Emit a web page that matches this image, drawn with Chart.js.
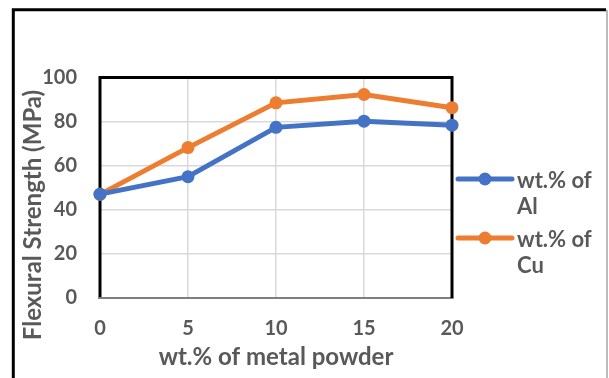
<!DOCTYPE html>
<html><head><meta charset="utf-8">
<style>html,body{margin:0;padding:0;background:#fff;overflow:hidden}#wrap{width:609px;height:378px;position:relative}</style>
<script src="https://cdn.jsdelivr.net/npm/chart.js@4.4.0/dist/chart.umd.min.js"></script>
</head><body><div id="wrap"><canvas id="c" width="609" height="378"></canvas></div>
<script>
const categories = ['0', '5', '10', '15', '20'];
const alValues = [47.1, 55.0, 77.4, 80.2, 78.4];
const cuValues = [47.0, 68.2, 88.5, 92.3, 86.3];
const seriesLabels = ['wt.% of Al', 'wt.% of Cu'];
const seriesColors = ['#4472C4', '#ED7D31'];
const yTicks = [0, 20, 40, 60, 80, 100];
const xTitle = 'wt.% of metal powder';
const yTitle = 'Flexural Strength (MPa)';

const FONT = 'Lato, "Open Sans", sans-serif';
const TEXT = '#595959';

const framePlugin = {
  id: 'frame',
  beforeDraw(chart) {
    const ctx = chart.ctx;
    ctx.save();
    ctx.fillStyle = '#fff';
    ctx.fillRect(0, 0, chart.width, chart.height);
    // outer frame
    ctx.strokeStyle = '#000';
    ctx.lineWidth = 3;
    ctx.beginPath();
    ctx.moveTo(13.3, chart.height + 2);
    ctx.lineTo(13.3, 9.7);
    ctx.lineTo(606, 9.7);
    ctx.stroke();
    ctx.strokeStyle = '#a6a6a6';
    ctx.lineWidth = 1.5;
    ctx.beginPath();
    ctx.moveTo(607, 9.7);
    ctx.lineTo(607, chart.height + 2);
    ctx.stroke();
    ctx.restore();
  },
  beforeDatasetsDraw(chart) {
    const {ctx, chartArea: a} = chart;
    ctx.save();
    ctx.strokeStyle = '#7f7f7f';
    ctx.lineWidth = 2;
    ctx.beginPath();
    ctx.moveTo(a.left - 2, a.bottom);
    ctx.lineTo(a.right + 1.5, a.bottom);
    ctx.stroke();
    ctx.strokeStyle = '#000';
    ctx.lineWidth = 3;
    ctx.beginPath();
    ctx.moveTo(a.left, a.bottom - 1);
    ctx.lineTo(a.left, a.top);
    ctx.lineTo(a.right, a.top);
    ctx.lineTo(a.right, a.bottom);
    ctx.stroke();
    ctx.restore();
  },
  afterDraw(chart) {
    const ctx = chart.ctx;
    ctx.save();
    // y title
    ctx.fillStyle = TEXT;
    ctx.font = 'bold 24px ' + FONT;
    ctx.textAlign = 'center';
    ctx.textBaseline = 'middle';
    ctx.translate(33, 215);
    ctx.rotate(-Math.PI / 2);
    ctx.fillText(yTitle, 0, 0);
    ctx.restore();

    // legend
    ctx.save();
    ctx.font = 'bold 22px ' + FONT;
    ctx.textAlign = 'left';
    ctx.textBaseline = 'alphabetic';
    const itemTop = [179, 238];
    chart.data.datasets.forEach((ds, i) => {
      const y = itemTop[i];
      ctx.strokeStyle = ds.borderColor;
      ctx.lineWidth = 5;
      ctx.lineCap = 'round';
      ctx.beginPath();
      ctx.moveTo(458, y);
      ctx.lineTo(512, y);
      ctx.stroke();
      ctx.fillStyle = ds.backgroundColor;
      ctx.beginPath();
      ctx.arc(485, y, 6.5, 0, Math.PI * 2);
      ctx.fill();
      // wrap text
      const words = ds.label.split(' ');
      const lines = [];
      let cur = '';
      words.forEach(w => {
        const t = cur ? cur + ' ' + w : w;
        if (ctx.measureText(t).width > 84 && cur) { lines.push(cur); cur = w; } else cur = t;
      });
      if (cur) lines.push(cur);
      ctx.fillStyle = TEXT;
      lines.forEach((ln, k) => ctx.fillText(ln, 517, y + 8.5 + k * 26.6));
    });
    ctx.restore();
  }
};

new Chart(document.getElementById('c'), {
  type: 'line',
  data: {
    labels: categories,
    datasets: [
      {label: seriesLabels[0], data: alValues, borderColor: seriesColors[0], backgroundColor: seriesColors[0]},
      {label: seriesLabels[1], data: cuValues, borderColor: seriesColors[1], backgroundColor: seriesColors[1]}
    ]
  },
  options: {
    responsive: false,
    devicePixelRatio: 1,
    animation: false,
    layout: {padding: {left: 0, top: 77.5, right: 157, bottom: 0}},
    elements: {
      line: {borderWidth: 5, tension: 0},
      point: {radius: 6.5, hoverRadius: 6.5, borderWidth: 0}
    },
    datasets: {line: {clip: false}},
    plugins: {legend: {display: false}, tooltip: {enabled: false}},
    scales: {
      x: {
        type: 'category',
        offset: false,
        grid: {color: '#d9d9d9', lineWidth: 1.5, drawTicks: false},
        border: {display: false},
        ticks: {color: TEXT, font: {family: FONT, size: 20, weight: 'bold'}, padding: 19, maxRotation: 0},
        title: {display: true, text: xTitle, color: TEXT, font: {family: FONT, size: 24, weight: 'bold'}, padding: {top: 0, bottom: 6}},
        afterFit(s) { s.height = 80; }
      },
      y: {
        min: 0, max: 100,
        afterBuildTicks(s) { s.ticks = yTicks.map(v => ({value: v})); },
        grid: {color: '#d9d9d9', lineWidth: 1.5, drawTicks: false},
        border: {display: false},
        ticks: {color: TEXT, font: {family: FONT, size: 20, weight: 'bold'}, padding: 23},
        afterFit(s) { s.width = 100; }
      }
    }
  },
  plugins: [framePlugin]
});
</script></body></html>
